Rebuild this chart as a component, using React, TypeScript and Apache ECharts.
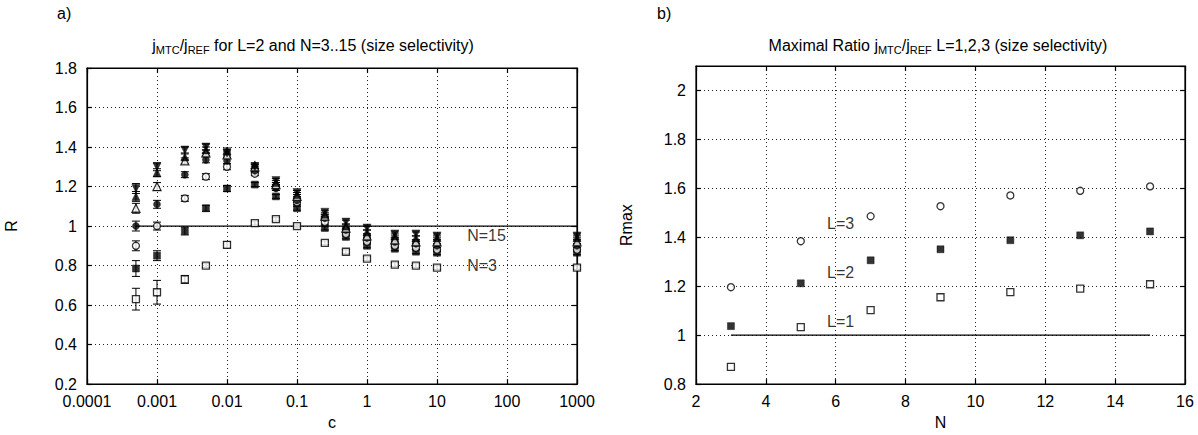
import React, { useEffect, useRef } from "react";
import * as echarts from "echarts";

// ---------- Panel a) : R vs c for L=2 ----------
const cValues = [0.0005, 0.001, 0.0025, 0.005, 0.01, 0.025, 0.05, 0.1, 0.25, 0.5, 1, 2.5, 5, 10, 1000];
const rN3 = [0.63, 0.665, 0.73, 0.8, 0.905, 1.015, 1.035, 1.0, 0.915, 0.87, 0.835, 0.805, 0.8, 0.79, 0.79];
const rN5 = [0.785, 0.85, 0.975, 1.09, 1.19, 1.21, 1.15, 1.09, 0.99, 0.945, 0.9, 0.885, 0.87, 0.865, 0.865];
const rN7 = [0.9, 1.0, 1.14, 1.25, 1.3, 1.265, 1.2, 1.12, 1.02, 0.96, 0.92, 0.9, 0.89, 0.88, 0.88];
const rN9 = [1.0, 1.11, 1.26, 1.335, 1.33, 1.28, 1.19, 1.13, 1.04, 0.98, 0.94, 0.92, 0.91, 0.9, 0.9];
const rN11 = [1.09, 1.2, 1.33, 1.37, 1.36, 1.3, 1.21, 1.15, 1.05, 0.99, 0.95, 0.93, 0.92, 0.92, 0.92];
const rN13 = [1.15, 1.27, 1.35, 1.385, 1.38, 1.31, 1.22, 1.16, 1.06, 1.0, 0.97, 0.95, 0.94, 0.94, 0.94];
const rN15 = [1.19, 1.3, 1.385, 1.4, 1.37, 1.3, 1.23, 1.17, 1.07, 1.02, 0.99, 0.96, 0.96, 0.95, 0.95];
const errN3 = [0.055, 0.06, 0.02, 0.01, 0.015, 0.01, 0.01, 0.01, 0.01, 0.01, 0.01, 0.01, 0.01, 0.01, 0.01];
const errN5 = [0.04, 0.025, 0.02, 0.015, 0.015, 0.01, 0.01, 0.01, 0.01, 0.01, 0.01, 0.01, 0.01, 0.01, 0.01];
const errOther = [0.025, 0.02, 0.015, 0.015, 0.015, 0.01, 0.01, 0.01, 0.01, 0.01, 0.01, 0.01, 0.01, 0.01, 0.01];
const refLineC = [0.0005, 1000];
const cTickLabels = ["0.0001", "0.001", "0.01", "0.1", "1", "10", "100", "1000"];
const labelsA = [
  { text: "N=15", c: 27, r: 0.95 },
  { text: "N=3", c: 27, r: 0.8 },
];

// ---------- Panel b) : Rmax vs N ----------
const nValues = [3, 5, 7, 9, 11, 13, 15];
const rmaxL1 = [0.87, 1.033, 1.102, 1.155, 1.176, 1.19, 1.208];
const rmaxL2 = [1.037, 1.212, 1.306, 1.351, 1.388, 1.408, 1.424];
const rmaxL3 = [1.196, 1.384, 1.486, 1.527, 1.571, 1.59, 1.608];
const refLineN = [3, 15];
const labelsB = [
  { text: "L=3", n: 5.75, r: 1.457 },
  { text: "L=2", n: 5.75, r: 1.255 },
  { text: "L=1", n: 5.75, r: 1.055 },
];

const FONT = "Liberation Sans, Arial, sans-serif";
const FS = 16;

export default function App() {
  const ref = useRef<HTMLDivElement>(null);

  useEffect(() => {
    if (!ref.current) return;
    const chart = echarts.init(ref.current, null, { renderer: "svg" });

    const black = "#000";
    const dotted = { type: [1, 3] as any, color: "#222", width: 1 };

    const errSeries = (ys: number[], errs: number[], name: string) => ({
      type: "custom",
      name: name + "-err",
      xAxisIndex: 0,
      yAxisIndex: 0,
      silent: true,
      clip: false,
      z: 3,
      data: cValues.map((c, i) => [c, ys[i], errs[i]]),
      renderItem: (params: any, api: any) => {
        const x = api.value(0);
        const y = api.value(1);
        const e = api.value(2);
        const top = api.coord([x, y + e]);
        const bot = api.coord([x, y - e]);
        const w = 4;
        const st = { stroke: black, lineWidth: 1 };
        return {
          type: "group",
          children: [
            { type: "line", shape: { x1: top[0], y1: top[1], x2: bot[0], y2: bot[1] }, style: st },
            { type: "line", shape: { x1: top[0] - w, y1: top[1], x2: top[0] + w, y2: top[1] }, style: st },
            { type: "line", shape: { x1: bot[0] - w, y1: bot[1], x2: bot[0] + w, y2: bot[1] }, style: st },
          ],
        };
      },
    });

    const open = { color: "#fff", borderColor: black, borderWidth: 1.3 };
    const filled = { color: black, borderColor: black, borderWidth: 0.5 };

    const scatterA = (ys: number[], name: string, symbol: string, style: any, rotate = 0, size = 7) => ({
      type: "scatter",
      name,
      xAxisIndex: 0,
      yAxisIndex: 0,
      symbol,
      symbolSize: size,
      symbolRotate: rotate,
      clip: false,
      z: 4,
      itemStyle: style,
      data: cValues.map((c, i) => [c, ys[i]]),
    });

    const scatterB = (ys: number[], name: string, symbol: string, style: any, size = 7) => ({
      type: "scatter",
      name,
      xAxisIndex: 2,
      yAxisIndex: 2,
      symbol,
      symbolSize: size,
      z: 4,
      itemStyle: style,
      data: nValues.map((n, i) => [n, ys[i]]),
    });

    const labelStyle = { show: true, position: "right", distance: 0, color: black, fontSize: FS, fontFamily: FONT };

    const tickFmtA = (v: number) => {
      const s = String(Number(Number(v).toPrecision(6)));
      return cTickLabels.includes(s) ? s : "";
    };

    const axisLabel = { color: black, fontSize: FS, fontFamily: FONT };
    const nameStyle = { color: black, fontSize: FS, fontFamily: FONT };
    const axisLine = { show: true, lineStyle: { color: black, width: 1.2 } };
    const axisTick = { show: true, inside: true, length: 5, lineStyle: { color: black, width: 1.2 } };

    const richTitle = {
      m: { fontSize: FS, fontFamily: FONT, lineHeight: 20, verticalAlign: "middle", fill: black },
      s: { fontSize: 11, fontFamily: FONT, lineHeight: 11, verticalAlign: "bottom", fill: black },
    };

    const option: any = {
      animation: false,
      backgroundColor: "#fff",
      textStyle: { fontFamily: FONT },
      graphic: [
        { type: "text", x: 57, y: 5, style: { text: "a)", fontSize: FS, fontFamily: FONT, fill: black } },
        { type: "text", x: 657, y: 5, style: { text: "b)", fontSize: FS, fontFamily: FONT, fill: black } },
        {
          type: "text",
          x: 313,
          y: 45,
          style: {
            text: "{m|j}{s|MTC}{m|/j}{s|REF}{m| for L=2 and N=3..15 (size selectivity)}",
            textAlign: "center",
            textVerticalAlign: "middle",
            fill: black,
            rich: richTitle,
          },
        },
        {
          type: "text",
          x: 938,
          y: 45,
          style: {
            text: "{m|Maximal Ratio j}{s|MTC}{m|/j}{s|REF}{m| L=1,2,3 (size selectivity)}",
            textAlign: "center",
            textVerticalAlign: "middle",
            fill: black,
            rich: richTitle,
          },
        },
      ],
      grid: [
        { left: 87, top: 68, width: 490, height: 319, show: true, borderColor: black, borderWidth: 1.2, backgroundColor: "#fff" },
        { left: 696, top: 66, width: 489, height: 321, show: true, borderColor: black, borderWidth: 1.2, backgroundColor: "#fff" },
      ],
      xAxis: [
        {
          type: "log",
          logBase: 10,
          gridIndex: 0,
          min: 0.0001,
          max: 1000,
          name: "c",
          nameLocation: "middle",
          nameGap: 28,
          nameTextStyle: nameStyle,
          axisLine,
          axisTick,
          axisLabel: { ...axisLabel, margin: 9, formatter: tickFmtA },
          splitLine: { show: true, lineStyle: dotted },
        },
        {
          type: "log",
          logBase: 10,
          gridIndex: 0,
          position: "top",
          min: 0.0001,
          max: 1000,
          axisLine,
          axisTick,
          axisLabel: { show: false },
          splitLine: { show: false },
        },
        {
          type: "value",
          gridIndex: 1,
          min: 2,
          max: 16,
          interval: 2,
          name: "N",
          nameLocation: "middle",
          nameGap: 28,
          nameTextStyle: nameStyle,
          axisLine,
          axisTick,
          axisLabel: { ...axisLabel, margin: 9 },
          splitLine: { show: true, lineStyle: dotted },
        },
        {
          type: "value",
          gridIndex: 1,
          position: "top",
          min: 2,
          max: 16,
          interval: 2,
          axisLine,
          axisTick,
          axisLabel: { show: false },
          splitLine: { show: false },
        },
      ],
      yAxis: [
        {
          type: "value",
          gridIndex: 0,
          min: 0.2,
          max: 1.8,
          interval: 0.2,
          name: "R",
          nameLocation: "middle",
          nameGap: 68,
          nameTextStyle: nameStyle,
          axisLine,
          axisTick,
          axisLabel: { ...axisLabel, margin: 10 },
          splitLine: { show: true, lineStyle: dotted },
        },
        {
          type: "value",
          gridIndex: 0,
          position: "right",
          min: 0.2,
          max: 1.8,
          interval: 0.2,
          axisLine,
          axisTick,
          axisLabel: { show: false },
          splitLine: { show: false },
        },
        {
          type: "value",
          gridIndex: 1,
          min: 0.8,
          max: 2.1,
          interval: 0.2,
          name: "Rmax",
          nameLocation: "middle",
          nameGap: 62,
          nameTextStyle: nameStyle,
          axisLine,
          axisTick,
          axisLabel: { ...axisLabel, margin: 10, showMaxLabel: false },
          splitLine: { show: true, lineStyle: dotted },
        },
        {
          type: "value",
          gridIndex: 1,
          position: "right",
          min: 0.8,
          max: 2.1,
          interval: 0.2,
          axisLine,
          axisTick,
          axisLabel: { show: false },
          splitLine: { show: false },
        },
      ],
      series: [
        {
          type: "line",
          xAxisIndex: 0,
          yAxisIndex: 0,
          symbol: "none",
          z: 2,
          lineStyle: { color: black, width: 1.3 },
          data: refLineC.map((c) => [c, 1]),
        },
        errSeries(rN3, errN3, "N=3"),
        errSeries(rN5, errN5, "N=5"),
        errSeries(rN7, errOther, "N=7"),
        errSeries(rN9, errOther, "N=9"),
        errSeries(rN11, errOther, "N=11"),
        errSeries(rN13, errOther, "N=13"),
        errSeries(rN15, errOther, "N=15"),
        scatterA(rN3, "N=3", "rect", open),
        scatterA(rN5, "N=5", "rect", filled),
        scatterA(rN7, "N=7", "circle", open),
        scatterA(rN9, "N=9", "circle", filled),
        scatterA(rN11, "N=11", "triangle", open, 0, 8),
        scatterA(rN13, "N=13", "triangle", filled, 0, 8),
        scatterA(rN15, "N=15", "triangle", filled, 180, 8),
        {
          type: "scatter",
          xAxisIndex: 0,
          yAxisIndex: 0,
          symbolSize: 0,
          z: 5,
          label: { ...labelStyle, formatter: (p: any) => p.data[2] },
          data: labelsA.map((l) => [l.c, l.r, l.text]),
        },
        {
          type: "line",
          xAxisIndex: 2,
          yAxisIndex: 2,
          symbol: "none",
          z: 2,
          lineStyle: { color: black, width: 1.3 },
          data: refLineN.map((n) => [n, 1]),
        },
        scatterB(rmaxL1, "L=1", "rect", open),
        scatterB(rmaxL2, "L=2", "rect", filled),
        scatterB(rmaxL3, "L=3", "circle", open),
        {
          type: "scatter",
          xAxisIndex: 2,
          yAxisIndex: 2,
          symbolSize: 0,
          z: 5,
          label: { ...labelStyle, formatter: (p: any) => p.data[2] },
          data: labelsB.map((l) => [l.n, l.r, l.text]),
        },
      ],
    };

    chart.setOption(option);
    return () => chart.dispose();
  }, []);

  return (
    <div
      ref={ref}
      style={{ position: "absolute", left: 0, top: 0, width: 1198, height: 435, background: "#fff" }}
    />
  );
}
